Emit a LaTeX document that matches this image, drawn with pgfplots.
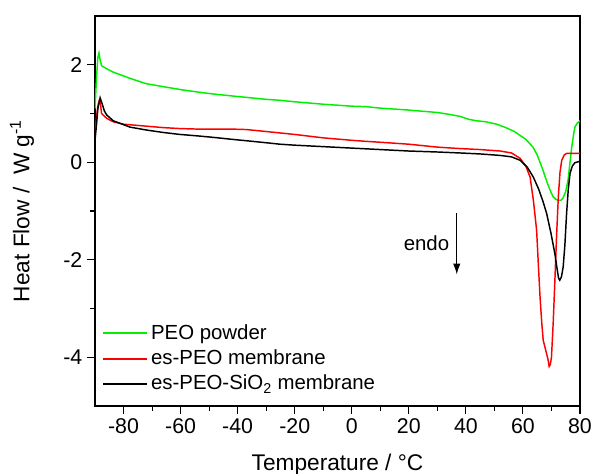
\documentclass[border=0pt]{standalone}
\usepackage{fontspec}
\setmainfont{Liberation Sans}
\usepackage{pgfplots}
\pgfplotsset{compat=1.18}
\usetikzlibrary{arrows.meta}
\definecolor{pgreen}{RGB}{0,240,0}
\definecolor{pred}{RGB}{250,0,0}
\begin{document}
\begin{tikzpicture}
\begin{axis}[
  name=ax,
  scale only axis, width=363.75pt, height=292.5pt,
  xmin=-90, xmax=80, ymin=-5, ymax=3,
  xtick={-80,-60,...,80}, ytick={-4,-2,0,2},
  minor x tick num=1, minor y tick num=1,
  tick pos=left, tick align=outside,
  major tick length=6pt, minor tick length=3.5pt,
  axis line style={line width=0.8pt, black},
  every tick/.style={black, line width=0.8pt},
  /pgf/number format/assume math mode=true,
  ticklabel style={font=\fontsize{16}{18}\selectfont},
  xlabel={Temperature / °C},
  ylabel={Heat Flow /\ \ W g\textsuperscript{-1}},
  label style={font=\fontsize{17}{20}\selectfont},
  xlabel style={at={(axis description cs:0.5,-0.166)}, anchor=base},
  ylabel style={at={(axis description cs:-0.116,0.5)}, anchor=south},
  legend style={draw=none, fill=none, at={(axis cs:-87.5,-3.28)}, anchor=north west,
    font=\fontsize{15.3}{18}\selectfont, inner sep=0pt, row sep=2.2pt},
  legend cell align=left,
  legend image code/.code={\draw[#1, line width=1.5pt] (0pt,0pt) -- (33pt,0pt);},
  every axis plot/.append style={line width=1.1pt},
]
\addplot[pgreen] coordinates {
(-90,1.1) (-89.5,1.7) (-89,2.15) (-88.6,2.24) (-88.2,2.1) (-87.7,1.98) (-86,1.92)
(-83.7,1.85) (-80,1.77) (-77.7,1.72) (-72,1.61) (-66,1.55) (-60,1.49) (-54,1.44)
(-48.6,1.40) (-42,1.36) (-36.8,1.33) (-30,1.29) (-25,1.27) (-20,1.24) (-10,1.19)
(0,1.15) (5,1.14) (10,1.11) (20,1.07) (30,1.02) (34.4,0.98) (38,0.94) (41,0.88)
(43.8,0.85) (47,0.83) (50.8,0.78) (54,0.71) (57,0.63) (59,0.55) (61,0.47) (63.5,0.31)
(65,0.15) (67,-0.16) (68.5,-0.42) (69.5,-0.57) (70.5,-0.70) (71.5,-0.76) (72.4,-0.78)
(73.3,-0.78) (74.0,-0.74) (75,-0.60) (75.8,-0.37) (76.5,0.0) (77.1,0.31) (77.7,0.55)
(78.2,0.72) (79,0.80) (80,0.85)
};
\addlegendentry{PEO powder}
\addplot[pred] coordinates {
(-90,0.62) (-89.5,0.9) (-89,1.15) (-88.5,1.27) (-88.2,1.25) (-87.7,1.0) (-85.9,0.9)
(-83.6,0.83) (-80,0.78) (-72,0.74) (-66,0.71) (-60,0.69) (-54,0.68) (-48.6,0.68)
(-42,0.68) (-36.8,0.67) (-30,0.63) (-25,0.60) (-20,0.57) (-10,0.50) (0,0.45) (4.6,0.43)
(10,0.41) (20,0.37) (30,0.31) (38,0.28) (45,0.26) (52,0.23) (56,0.19) (59,0.08)
(61,-0.08) (62.5,-0.30) (63.7,-0.8) (64.8,-1.40) (65.4,-2.1) (66,-2.77) (66.6,-3.3)
(67.1,-3.65) (68.3,-3.93) (68.8,-4.05) (69.2,-4.19) (69.6,-4.15) (70,-4.0) (70.6,-3.3)
(71.2,-2.42) (71.8,-1.5) (72.4,-0.71) (73,-0.2) (73.6,0.04) (74.5,0.15) (75.3,0.18)
(80,0.18)
};
\addlegendentry{es-PEO membrane}
\addplot[black] coordinates {
(-90,0.45) (-89.5,0.75) (-89,1.1) (-88.2,1.32) (-87.5,1.2) (-86.7,1.05) (-85.9,0.97)
(-83.6,0.85) (-77.7,0.72) (-71.9,0.66) (-66,0.61) (-60.2,0.57) (-54,0.54) (-48.5,0.51)
(-42,0.47) (-36.8,0.44) (-30,0.40) (-25.2,0.37) (-20,0.35) (-10,0.32) (0,0.29) (10,0.26)
(20,0.23) (30,0.21) (38,0.19) (45,0.17) (52,0.14) (56,0.11) (59,0.04) (61.5,-0.10)
(63.6,-0.30) (65.5,-0.55) (67,-0.80) (68.3,-1.05) (69.8,-1.45) (71.2,-1.88) (72,-2.2)
(72.5,-2.38) (72.9,-2.42) (73.5,-2.35) (74.1,-2.15) (74.7,-1.7) (75.3,-1.05)
(75.9,-0.55) (76.5,-0.23) (77.3,-0.08) (78.2,-0.01) (80,0.02)
};
\addlegendentry{es-PEO-SiO\textsubscript{2} membrane}
\draw[line width=0.75pt, -{Latex[length=8pt,width=5.5pt]}] (axis cs:36.8,-1.05) -- (axis cs:36.8,-2.3);
\node[font=\fontsize{15.3}{18}\selectfont, anchor=east] at (axis cs:35.8,-1.66) {endo};
\end{axis}
\pgfresetboundingbox
\useasboundingbox ([shift={(-71.25pt,-51pt)}]ax.south west) rectangle ([shift={(11.25pt,12pt)}]ax.north east);
\end{tikzpicture}
\end{document}
